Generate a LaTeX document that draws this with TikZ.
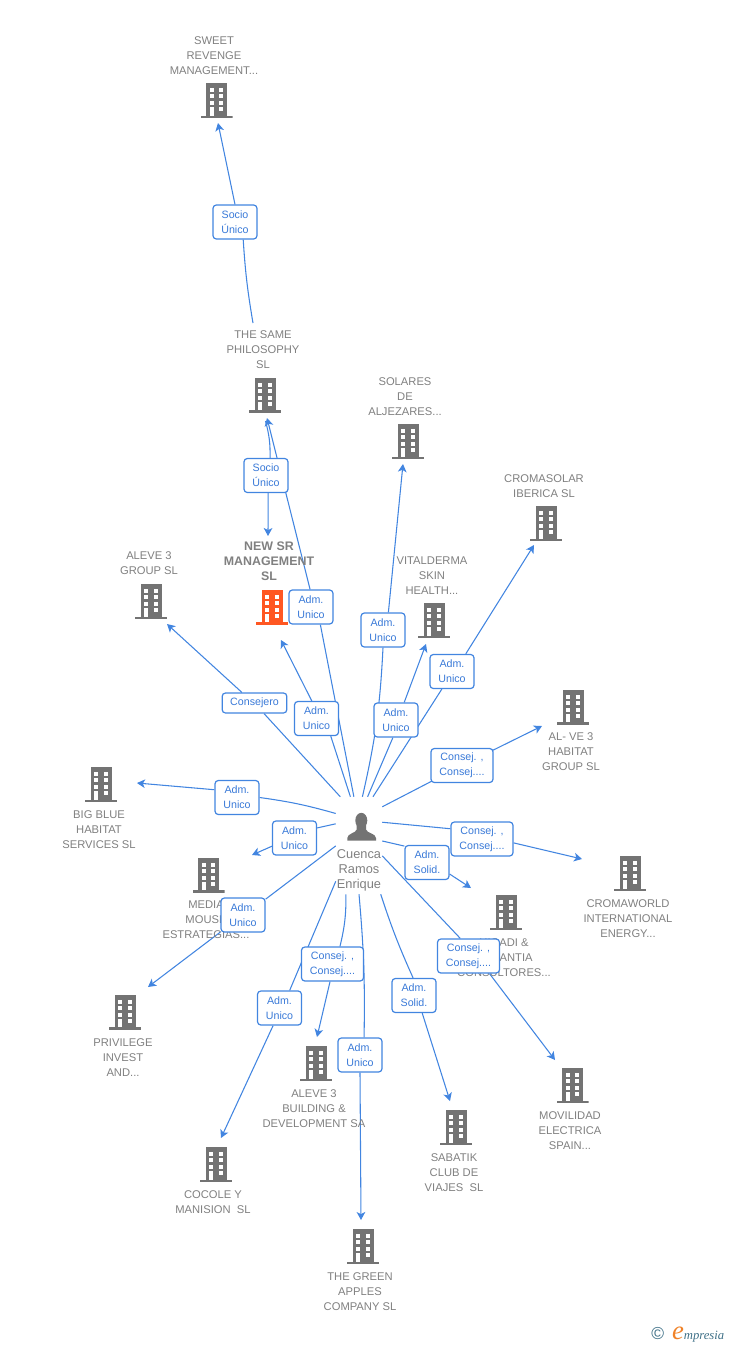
\documentclass[tikz,border=0pt]{standalone}
\usepackage{fontspec}
\usepackage{tikz}
\usetikzlibrary{arrows.meta}
\setmainfont{Liberation Sans}
\newfontfamily\logofont{Liberation Serif}
\pgfdeclarelayer{lines}
\pgfsetlayers{lines,main}
\definecolor{linkblue}{RGB}{66,133,224}
\definecolor{textblue}{RGB}{58,122,216}
\definecolor{labelgray}{RGB}{128,128,128}
\definecolor{icongray}{RGB}{115,115,115}
\definecolor{iconorange}{RGB}{255,87,34}
\definecolor{logoteal}{RGB}{62,112,135}
\definecolor{logoorange}{RGB}{240,130,40}
\tikzset{
    bldg/.style={shape=rectangle,inner sep=0pt,minimum width=24pt,minimum height=26.25pt,
        path picture={
            \begin{scope}[shift={(path picture bounding box.center)}]
                \fill[#1] (-10.5,-17.5) rectangle (10.5,15.5);
                \fill[#1] (-16,15) rectangle (16,17.5);
                \fill[white] (-7,-12.5) rectangle (-3,-8.5);
                \fill[white] (2.5,-12.5) rectangle (6.5,-8.5);
                \fill[white] (-7,-6.2) rectangle (-3,-2.2);
                \fill[white] (2.5,-6.2) rectangle (6.5,-2.2);
                \fill[white] (-7,0.5) rectangle (-3,4.5);
                \fill[white] (2.5,0.5) rectangle (6.5,4.5);
                \fill[white] (-7,6.8) rectangle (-3,15);
                \fill[white] (2.5,6.8) rectangle (6.5,10.8);
            \end{scope}
        }},
    bldg/.default=icongray,
    man/.style={shape=rectangle,inner sep=0pt,minimum width=34.5pt,minimum height=72.75pt,
        path picture={
            \begin{scope}[shift={(path picture bounding box.center)}]
                \fill[icongray] (2.3,-25) ellipse (6 and 7.7);
                \fill[icongray] (-11.7,-4.8) -- (-11.7,-7.5) .. controls (-11.7,-12) and (-3,-12.5) .. (-2.3,-16)
                    -- (-2.3,-21) -- (7,-21) -- (7,-16) .. controls (7.7,-12.5) and (17,-12) .. (17,-7.5) -- (17,-4.8) -- cycle;
            \end{scope}
        }},
    lbl/.style={text=labelgray,align=center,inner sep=0pt,yshift=-.4pt,font=\fontsize{8.4}{11.25}\selectfont},
    lblbold/.style={lbl,font=\fontsize{9.3}{11.25}\selectfont\bfseries},
    manlbl/.style={lbl,font=\fontsize{9.6}{11.25}\selectfont},
    rolebox/.style={shape=rectangle,draw=linkblue,fill=white,line width=.9pt,rounded corners=2.5pt,
        text=textblue,align=center,inner sep=0pt,minimum width=33pt,minimum height=25.5pt,
        font=\fontsize{8}{11.25}\selectfont},
    rolewide/.style={rolebox,minimum width=46.5pt},
    link/.style={color=linkblue,line width=.8pt},
    arrowed/.style={-{Stealth[length=6pt,width=6.5pt,inset=1.6pt]}}
}

\begin{document}
\begin{tikzpicture}[x=.75pt,y=-.75pt]

        \useasboundingbox (0,0) rectangle (728,1345);

        % companies
        \node[bldg] (sweet) at (216.5,100.5) {};
        \node[bldg] (same) at (265,395) {};
        \node[bldg] (solares) at (408,441.5) {};
        \node[bldg] (cromasolar) at (546,523.5) {};
        \node[bldg] (alevegroup) at (151,601.5) {};
        \node[bldg=iconorange] (newsr) at (272,607) {};
        \node[bldg] (vitalderma) at (434,620.5) {};
        \node[bldg] (alve) at (573,707) {};
        \node[bldg] (bigblue) at (101,784.5) {};
        \node[bldg] (media) at (208.5,875) {};
        \node[bldg] (cromaworld) at (630,873.5) {};
        \node[bldg] (higadi) at (506,912.5) {};
        \node[bldg] (privilege) at (125,1012) {};
        \node[bldg] (movilidad) at (572.5,1085.5) {};
        \node[bldg] (alevebuilding) at (316,1063.5) {};
        \node[bldg] (sabatik) at (456,1127.5) {};
        \node[bldg] (cocole) at (216,1164.5) {};
        \node[bldg] (apples) at (363,1246.5) {};

        \node[lbl] (sweetlbl) at (214,55.5) {SWEET\\REVENGE\\MANAGEMENT...};
        \node[lbl] (samelbl) at (263,349.5) {THE SAME\\PHILOSOPHY\\SL};
        \node[lbl] (solareslbl) at (405,396.5) {SOLARES\\DE\\ALJEZARES...};
        \node[lbl] (cromasolarlbl) at (544,486) {CROMASOLAR\\IBERICA SL};
        \node[lbl] (alevegrouplbl) at (149,563) {ALEVE 3\\GROUP SL};
        \node[lblbold] (newsrlbl) at (269,560.5) {NEW SR\\MANAGEMENT\\SL};
        \node[lbl] (vitaldermalbl) at (432,575.5) {VITALDERMA\\SKIN\\HEALTH...};
        \node[lbl] (alvelbl) at (571,751.5) {AL- VE 3\\HABITAT\\GROUP SL};
        \node[lbl] (bigbluelbl) at (99,829.5) {BIG BLUE\\HABITAT\\SERVICES SL};
        \node[lbl] (medialbl) at (206,919.5) {MEDIA\\MOUSE\\ESTRATEGIAS...};
        \node[lbl] (cromaworldlbl) at (628,918.5) {CROMAWORLD\\INTERNATIONAL\\ENERGY...};
        \node[lbl] (higadilbl) at (504,957.5) {HIGADI \&\\GARANTIA\\CONSULTORES...};
        \node[lbl] (privilegelbl) at (123,1057.5) {PRIVILEGE\\INVEST\\AND...};
        \node[lbl] (movilidadlbl) at (570,1130.5) {MOVILIDAD\\ELECTRICA\\SPAIN...};
        \node[lbl] (alevebuildinglbl) at (314,1108.5) {ALEVE 3\\BUILDING \&\\DEVELOPMENT SA};
        \node[lbl] (sabatiklbl) at (454,1172.5) {SABATIK\\CLUB DE\\VIAJES\ \ SL};
        \node[lbl] (cocolelbl) at (213,1201.5) {COCOLE Y\\MANISION\ \ SL};
        \node[lbl] (appleslbl) at (360,1291.5) {THE GREEN\\APPLES\\COMPANY SL};

        % the person
        \node[man] (person) at (359,845.5) {};
        \node[manlbl] (personlbl) at (359,869.5) {Cuenca\\Ramos\\Enrique};

        % roles
        \node[rolebox] (rsweet) at (235,222) {Socio\\Único};
        \node[rolebox] (rnewsr) at (266,475.5) {Socio\\Único};
        \node[rolebox] (rsame) at (311,607) {Adm.~\\Unico};
        \node[rolebox] (rsolares) at (383,630) {Adm.~\\Unico};
        \node[rolebox] (rvital) at (396,720) {Adm.~\\Unico};
        \node[rolebox] (rcromasolar) at (452,671.5) {Adm.~\\Unico};
        \node[rolewide] (ralve) at (462,765.5) {Consej. ,\\Consej....};
        \node[rolewide] (rcromaworld) at (482,839) {Consej. ,\\Consej....};
        \node[rolebox] (rhigadi) at (427,862.5) {Adm.~\\Solid.};
        \node[rolewide] (rmovilidad) at (468.5,956) {Consej. ,\\Consej....};
        \node[rolebox] (rsabatik) at (414,995.5) {Adm.~\\Solid.};
        \node[rolebox] (rapples) at (360,1055) {Adm.~\\Unico};
        \node[rolewide] (rbuilding) at (332.5,964) {Consej. ,\\Consej....};
        \node[rolebox] (rcocole) at (279.5,1008) {Adm.~\\Unico};
        \node[rolebox] (rprivilege) at (243,915) {Adm.~\\Unico};
        \node[rolebox] (rmedia) at (294.5,838) {Adm.~\\Unico};
        \node[rolebox] (rbigblue) at (237,797.5) {Adm.~\\Unico};
        \node[rolebox,minimum width=48.5pt,minimum height=15pt] (ralevegroup) at (254.5,703) {Consejero};
        \node[rolebox] (rnew) at (316.5,718.5) {Adm.~\\Unico};

        % free ends
        \coordinate (sameup) at (253,323);
        \coordinate (samedown) at (265.5,421);
        \coordinate (tsweet) at (218,123);
        \coordinate (tnewsr) at (268,536);
        \coordinate (tsame) at (267,418);
        \coordinate (tsolares) at (403,464);
        \coordinate (tvital) at (426,644);
        \coordinate (tcromasolar) at (534,545);
        \coordinate (talve) at (542,726);
        \coordinate (tcromaworld) at (582,859);
        \coordinate (thigadi) at (471,888);
        \coordinate (tmovilidad) at (555,1060);
        \coordinate (tsabatik) at (450,1101);
        \coordinate (tapples) at (361,1220);
        \coordinate (tbuilding) at (317,1037);
        \coordinate (tcocole) at (221,1138);
        \coordinate (tprivilege) at (148,987);
        \coordinate (tmedia) at (252,855);
        \coordinate (tbigblue) at (137,783);
        \coordinate (talevegroup) at (167,624);
        \coordinate (tnew) at (281,640);

        \begin{pgfonlayer}{lines}
        \path[link] (sameup) edge[bend left=3] (rsweet.-65);
        \path[link,arrowed] (rsweet.north) edge (tsweet);
        \path[link] (samedown) edge[bend left=8] (rnewsr.77);
        \path[link,arrowed] (rnewsr.-83) edge (tnewsr);
        \path[link] (person.96) edge (rsame.-62);
        \path[link,arrowed] (rsame.93) edge (tsame);
        \path[link] (person.86.4) edge[bend right=5] (rsolares.south);
        \path[link,arrowed] (rsolares.73.6) edge (tsolares);
        \path[link] (person.80.4) edge (rvital.-100);
        \path[link,arrowed] (rvital.65) edge (tvital);
        \path[link] (person.74.7) edge (rcromasolar.-120);
        \path[link,arrowed] (rcromasolar.52.6) edge (tcromasolar);
        \path[link] (person.59.8) edge (ralve.center);
        \path[link,arrowed] (ralve.center) edge (talve);
        \path[link] (person.45.6) edge (rcromaworld.162);
        \path[link,arrowed] (rcromaworld.-7.4) edge (tcromaworld);
        \path[link] (person.11) edge (rhigadi.144.8);
        \path[link,arrowed] (rhigadi.-27.6) edge (thigadi);
        \path[link] (person.-24.5) edge (rmovilidad.115);
        \path[link,arrowed] (rmovilidad.-40) edge (tmovilidad);
        \path[link] (person.-66.6) edge[bend right=3] (rsabatik.93);
        \path[link,arrowed] (rsabatik.-65) edge (tsabatik);
        \path[link] (person.-90) edge[bend left=3] (rapples.77);
        \path[link,arrowed] (rapples.south) edge (tapples);
        \path[link] (person.-105.3) edge[bend left=7] (rbuilding.67.6);
        \path[link,arrowed] (rbuilding.-98) edge (tbuilding);
        \path[link] (person.-123) edge (rcocole.60.8);
        \path[link,arrowed] (rcocole.-110.9) edge (tcocole);
        \path[link] (person.181) edge (rprivilege.35);
        \path[link,arrowed] (rprivilege.-143) edge (tprivilege);
        \path[link] (person.137) edge (rmedia.24.4);
        \path[link,arrowed] (rmedia.200) edge (tmedia);
        \path[link] (person.126) edge[bend right=4] (rbigblue.east);
        \path[link,arrowed] (rbigblue.161) edge (tbigblue);
        \path[link] (person.111.4) edge (ralevegroup.-48);
        \path[link,arrowed] (ralevegroup.140) edge (talevegroup);
        \path[link] (person.100.7) edge (rnew.-51.5);
        \path[link,arrowed] (rnew.105) edge (tnew);
        \end{pgfonlayer}

        % logo
        \node[anchor=base west,inner sep=0pt] (logo) at (651,1339) {\textcolor{logoteal}{\fontsize{13}{13}\selectfont ©}\hspace{6pt}{\logofont\itshape\textcolor{logoorange}{\fontsize{20}{20}\selectfont e}\textcolor{logoteal}{\fontsize{9.5}{11}\selectfont mpresia}}};

    \end{tikzpicture}
\end{document}
